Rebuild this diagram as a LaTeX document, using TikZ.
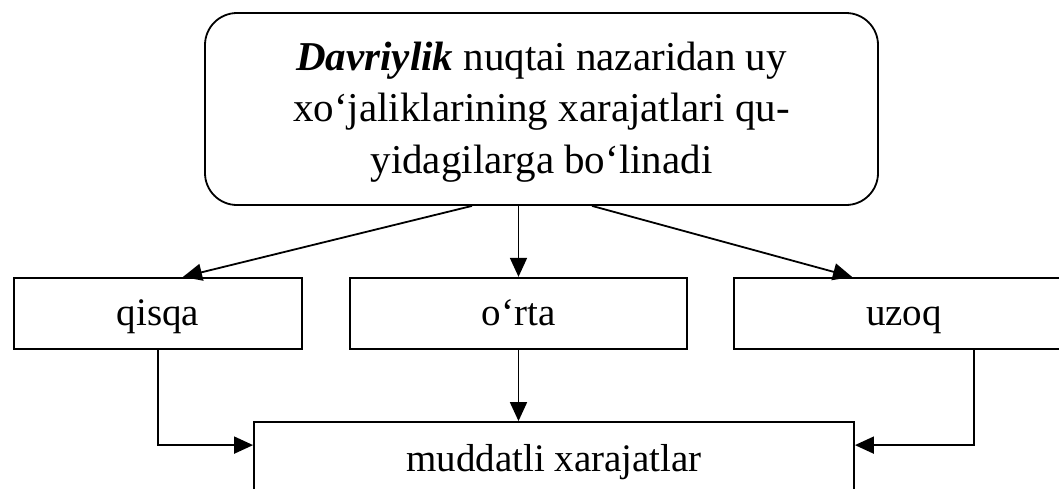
\documentclass[tikz,border=0pt]{standalone}
\usepackage{fontspec}
\setmainfont{Liberation Serif}
\usetikzlibrary{arrows.meta}
\tikzset{
  katta/.style={draw, rounded corners=32pt, inner sep=0pt,
    minimum width=673pt, minimum height=192pt},
  matnli/.style={align=center, inner sep=0pt,
    font=\fontsize{41}{51.5}\selectfont},
  quti/.style={draw, inner sep=0pt, minimum height=71.3pt,
    text height=30pt, text depth=6pt,
    font=\fontsize{39}{47}\selectfont}
}
\begin{document}
\begin{tikzpicture}[>={Triangle[length=19pt,width=17pt]}, x=1pt, y=-1pt, line width=1.8pt]
				\useasboundingbox (0,0) rectangle (1059,488);
				\clip (0,0) rectangle (1059,488);
				% Yuqori blok
				\node[katta] (bosh) at (541.5,109) {};
				\node[matnli] (matn) at (541.5,112) {\textbf{\textit{Davriylik}} nuqtai nazaridan uy\\xo‘jaliklarining xarajatlari qu-\\yidagilarga bo‘linadi};
				% Muddatlar
				\node[quti, minimum width=288pt] (qisqa) at (158,313.4) {qisqa};
				\node[quti, minimum width=337pt] (orta) at (518.5,313.4) {o‘rta};
				\node[quti, minimum width=340pt] (uzoq) at (904,313.4) {uzoq};
				\node[quti, minimum width=600pt, minimum height=74pt] (muddat) at (554,459) {muddatli xarajatlar};
				% Strelkalar
				\draw[->] ([xshift=-69.5pt]bosh.south) -- ([xshift=25pt]qisqa.north);
				\draw[->] (orta.north |- bosh.south) -- (orta.north);
				\draw[->] ([xshift=50.5pt]bosh.south) -- ([xshift=-52pt]uzoq.north);
				\draw[->] (orta.south) -- (orta.south |- muddat.north);
				\draw[->] (qisqa.south) |- ([yshift=-24pt]muddat.north west);
				\draw[->] ([xshift=70pt]uzoq.south) |- ([yshift=-24pt]muddat.north east);
			\end{tikzpicture}
\end{document}
